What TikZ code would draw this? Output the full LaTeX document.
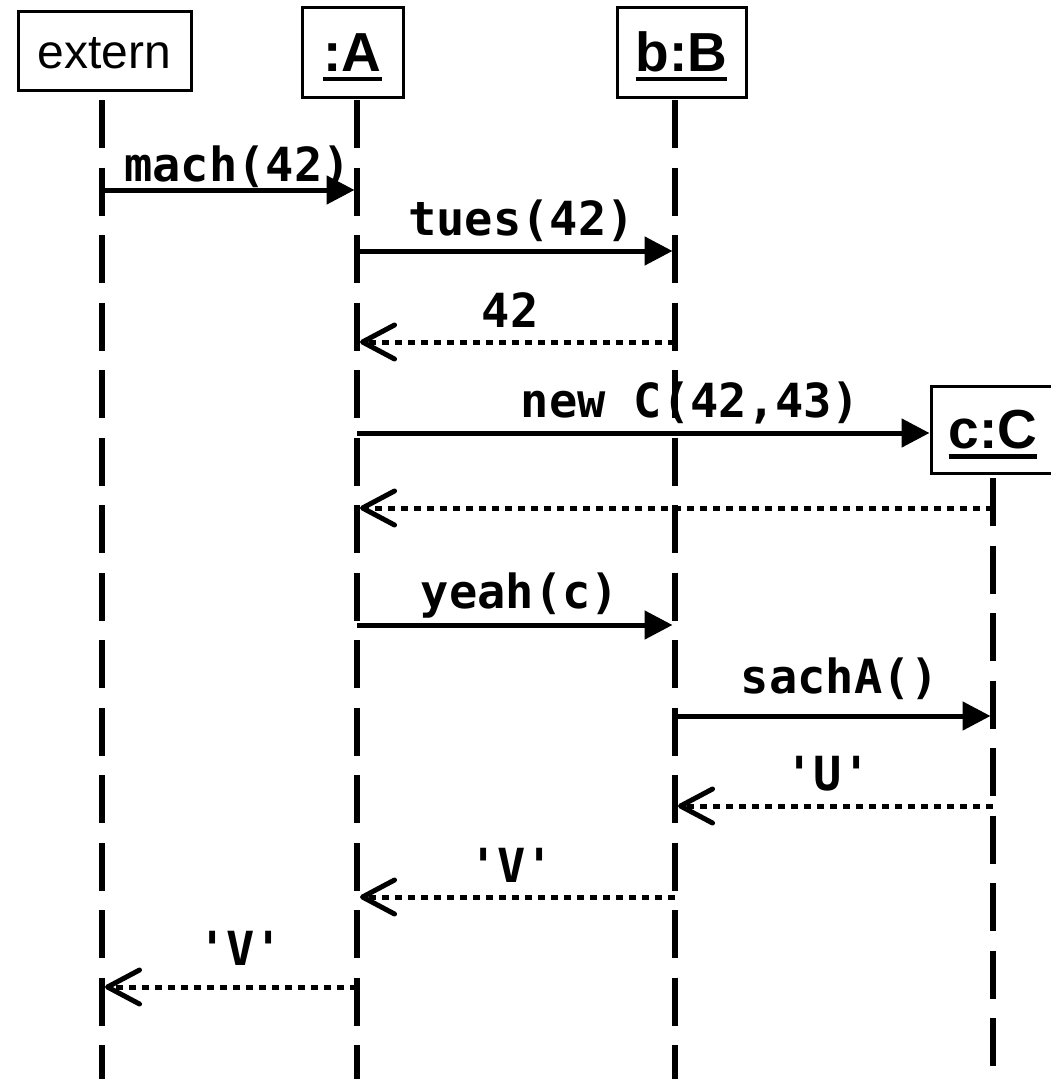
\documentclass[tikz,border=0pt]{standalone}
\usepackage{fontspec}
\setmainfont{Liberation Sans}
\setmonofont{DejaVu Sans Mono}
\usetikzlibrary{arrows.meta}

% underlined object name, thick rule below the baseline
\newcommand\objname[1]{\setbox0\hbox{#1}\rlap{\rule[-10pt]{\wd0}{4.5pt}}\box0}

\begin{document}
\begin{tikzpicture}[x=1pt,y=-1pt,
    obj/.style={draw, line width=3pt, inner sep=0pt, text height=43pt, text depth=5pt,
      font=\fontsize{55}{60}\selectfont\bfseries},
    life/.style={line width=5.5pt, dash pattern=on 48pt off 19.5pt},
    call/.style={line width=5pt, -{Triangle[length=28pt,width=28pt]}},
    reply/.style={line width=5pt, dash pattern=on 7pt off 6pt,
      -{Straight Barb[length=32pt,width=34pt,line width=5pt,round]}},
    lbl/.style={anchor=base, inner sep=0pt, font=\ttfamily\bfseries\fontsize{47}{52}\selectfont}]

\useasboundingbox (0,0) rectangle (1051,1079);

% ==== Objekte ====
\node[draw, line width=3pt, inner sep=0pt, minimum width=173pt, minimum height=79pt,
      text height=35pt, text depth=0pt, font=\fontsize{48}{52}\selectfont]
      (ext) at (104.5,50.5) {extern};
\node[obj, minimum width=101pt, minimum height=90pt] (A) at (352.5,52) {\objname{:A}};
\node[obj, minimum width=129pt, minimum height=90pt] (B) at (681.5,52) {\objname{b:B}};
\node[obj, minimum width=124pt, minimum height=87pt] (C) at (993,429.5) {\objname{c:C}};

% ==== Lebenslinien ====
\coordinate (lext) at (102,100);
\coordinate (lA)   at (357,100);
\coordinate (lB)   at (675,100);
\coordinate (lC)   at (993,478);

\draw[life] (lext) -- (lext |- 0,1079);
\draw[life] (lA)   -- (lA |- 0,1079);
\draw[life] (lB)   -- (lB |- 0,1079);
\draw[life] (lC)   -- (lC |- 0,1067);

% ==== Nachrichten ====
\draw[call, shorten >=2.5pt] (lext |- 0,190) -- (lA |- 0,190);
\node[lbl] (m1) at (237.5,181) {mach(42)};

\draw[call, shorten >=2.5pt] (lA |- 0,251) -- (lB |- 0,251);
\node[lbl] (m2) at (521.5,235) {tues(42)};

\draw[reply, shorten >=3pt] (lB |- 0,342) -- (lA |- 0,342);
\node[lbl] (r2) at (510,327) {42};

\draw[call] (lA |- 0,433) -- (C.west |- 0,433);
\node[lbl] (m3) at (690.5,417) {new C(42,43)};

\draw[reply, shorten >=3pt] (lC |- 0,508) -- (lA |- 0,508);

\draw[call, shorten >=2.5pt] (lA |- 0,625) -- (lB |- 0,625);
\node[lbl] (m4) at (520,608) {yeah(c)};

\draw[call, shorten >=2.5pt] (lB |- 0,716) -- (lC |- 0,716);
\node[lbl] (m5) at (840,693) {sachA()};

\draw[reply, shorten >=3pt] (lC |- 0,806) -- (lB |- 0,806);
\node[lbl] (r5) at (828,790) {'U'};

\draw[reply, shorten >=3pt] (lB |- 0,897) -- (lA |- 0,897);
\node[lbl] (r4) at (511.5,882) {'V'};

\draw[reply, shorten >=3pt] (lA |- 0,987) -- (lext |- 0,987);
\node[lbl] (r1) at (240.5,965) {'V'};

\end{tikzpicture}
\end{document}
